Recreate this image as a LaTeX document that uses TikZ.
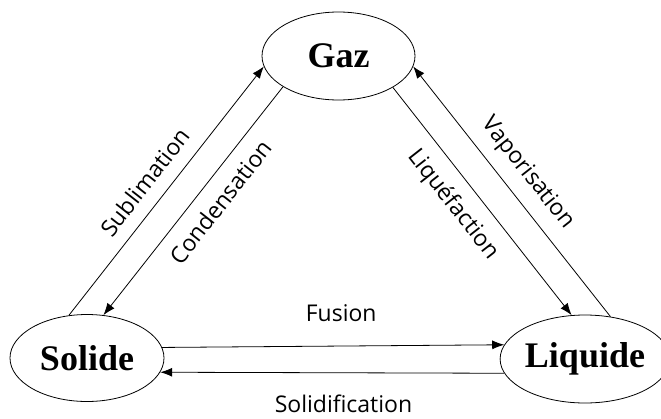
\documentclass[tikz,border=0pt]{standalone}
\usepackage{fontspec}
\setmainfont{Liberation Serif}
\newfontfamily\labelfont{Open Sans}
\usetikzlibrary{shapes.geometric,arrows.meta}
\begin{document}
\begin{tikzpicture}[x=1pt,y=-1pt,
		etat/.style={draw,ellipse,inner sep=0pt,line width=0.8pt,font=\fontsize{36}{40}\selectfont\bfseries},
		aller/.style={-{Latex[length=12pt,width=9pt]},line width=0.8pt},
		retour/.style={{Latex[length=12pt,width=9pt]}-,line width=0.8pt},
		lbl/.style={sloped,inner sep=0pt,font=\labelfont\fontsize{23}{26}\selectfont}]
		\useasboundingbox (0,0) rectangle (661,418);
		\node[etat,minimum width=153pt,minimum height=88pt] at (338.5,56) (gaz) {Gaz};
		\node[etat,minimum width=154pt,minimum height=87pt] at (87,358) (solide) {Solide};
		\node[etat,minimum width=146pt,minimum height=88pt] at (585,359) (liquide) {Liquide};
		% gauche
		\draw[aller] (solide.113.8) -- node[lbl,pos=0.48,above=13pt] {Sublimation} (gaz.188.3);
		\draw[retour] (solide.69.6) -- node[lbl,pos=0.555,below=13pt] {Condensation} (gaz.209.5);
		% droite
		\draw[aller] (gaz.330.4) -- node[lbl,pos=0.447,below=13pt] {Liquéfaction} (liquide.107.6);
		\draw[retour] (gaz.352) -- node[lbl,pos=0.486,above=12pt] {Vaporisation} (liquide.59.4);
		% bas
		\draw[aller] (solide.8.4) -- node[lbl,pos=0.524,above=24pt] {Fusion} (liquide.170.4);
		\draw[retour] (solide.349.1) -- node[lbl,pos=0.533,below=22pt] {Solidification} (liquide.190.4);
	\end{tikzpicture}
\end{document}
